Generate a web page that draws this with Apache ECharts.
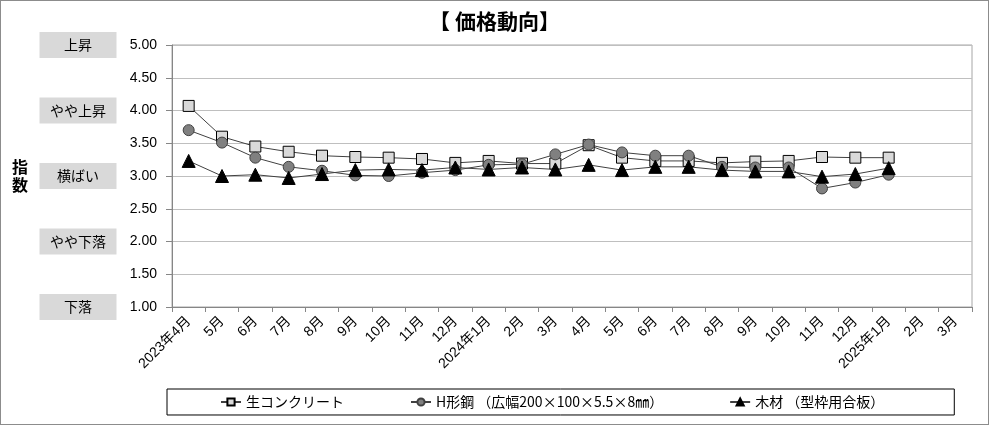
<!DOCTYPE html>
<html><head><meta charset="utf-8">
<script src="https://cdn.jsdelivr.net/npm/echarts@6/dist/echarts.min.js"></script>
<style>
html,body{margin:0;padding:0;background:#fff;}
#c{width:989px;height:425px;box-sizing:border-box;border:1px solid #8c8c8c;}
</style></head>
<body><div id="c"></div>
<script>
const categories = ['2023年4月','5月','6月','7月','8月','9月','10月','11月','12月','2024年1月','2月','3月','4月','5月','6月','7月','8月','9月','10月','11月','12月','2025年1月','2月','3月'];
const concrete = [4.07,3.60,3.45,3.37,3.31,3.29,3.28,3.26,3.20,3.23,3.19,3.19,3.47,3.28,3.23,3.23,3.20,3.22,3.23,3.29,3.28,3.28,null,null];
const hBeam    = [3.70,3.51,3.28,3.14,3.08,3.01,3.00,3.05,3.09,3.17,3.18,3.33,3.48,3.36,3.31,3.31,3.14,3.13,3.13,2.81,2.90,3.02,null,null];
const lumber   = [3.23,3.00,3.02,2.97,3.03,3.09,3.10,3.09,3.13,3.10,3.13,3.10,3.17,3.09,3.14,3.14,3.09,3.07,3.07,2.99,3.03,3.12,null,null];
const levelLabels = {1:'下落',2:'やや下落',3:'横ばい',4:'やや上昇',5:'上昇'};
const seriesNames = ['生コンクリート','H形鋼 （広幅200×100×5.5×8㎜）','木材 （型枠用合板）'];

const JP = '"Noto Sans CJK JP","Noto Sans",sans-serif';
const chart = echarts.init(document.getElementById('c'));
chart.setOption({
  animation:false,
  textStyle:{fontFamily:JP},
  title:{text:'【 価格動向】',left:'center',top:5,textStyle:{fontSize:21,fontWeight:'bold',color:'#000',fontFamily:JP}},
  grid:{left:171,right:16,top:44,bottom:117,show:true,borderColor:'#a6a6a6',borderWidth:1},
  legend:{
    left:166,top:388,
    padding:[6,70,6,53],itemGap:66,itemWidth:20,itemHeight:9,
    borderColor:'#000',borderWidth:1,
    textStyle:{fontSize:14,color:'#000',fontFamily:JP},
    data:seriesNames
  },
  xAxis:{
    type:'category',data:categories,boundaryGap:true,
    axisLine:{lineStyle:{color:'#868686'}},
    axisTick:{show:true,interval:0,length:5,lineStyle:{color:'#868686'}},
    axisLabel:{interval:0,rotate:45,fontSize:14,color:'#000',margin:12,fontFamily:'"Liberation Sans","Noto Sans CJK JP",sans-serif'},
    splitLine:{show:false}
  },
  yAxis:[{
    type:'value',min:1,max:5,interval:0.5,
    axisLine:{show:true,lineStyle:{color:'#868686'}},
    axisTick:{show:true,length:6,lineStyle:{color:'#868686'}},
    axisLabel:{formatter:v=>v.toFixed(2),fontSize:14,color:'#000',margin:15,fontFamily:'"Liberation Sans",sans-serif'},
    splitLine:{lineStyle:{color:'#bfbfbf'}},
    name:'指\n数',nameLocation:'middle',nameRotate:0,nameGap:144,
    nameTextStyle:{fontSize:16,fontWeight:'bold',color:'#000',lineHeight:18,fontFamily:JP}
  },{
    type:'value',min:1,max:5,interval:1,position:'left',
    axisLine:{show:false},axisTick:{show:false},splitLine:{show:false},
    axisLabel:{
      formatter:v=>levelLabels[v]||'',
      align:'center',margin:94,
      backgroundColor:'#d9d9d9',width:77,height:26,lineHeight:26,
      fontSize:14,color:'#000',fontFamily:JP
    }
  }],
  series:[{
    name:seriesNames[0],type:'line',data:concrete,
    symbol:'rect',symbolSize:11,
    lineStyle:{color:'#404040',width:1},
    itemStyle:{color:'#d9d9d9',borderColor:'#000',borderWidth:1}
  },{
    name:seriesNames[1],type:'line',data:hBeam,
    symbol:'circle',symbolSize:11,
    lineStyle:{color:'#404040',width:1},
    itemStyle:{color:'#808080',borderColor:'#404040',borderWidth:1}
  },{
    name:seriesNames[2],type:'line',data:lumber,
    symbol:'triangle',symbolSize:13,
    lineStyle:{color:'#404040',width:1},
    itemStyle:{color:'#000',borderColor:'#000',borderWidth:1}
  }]
});
</script></body></html>
